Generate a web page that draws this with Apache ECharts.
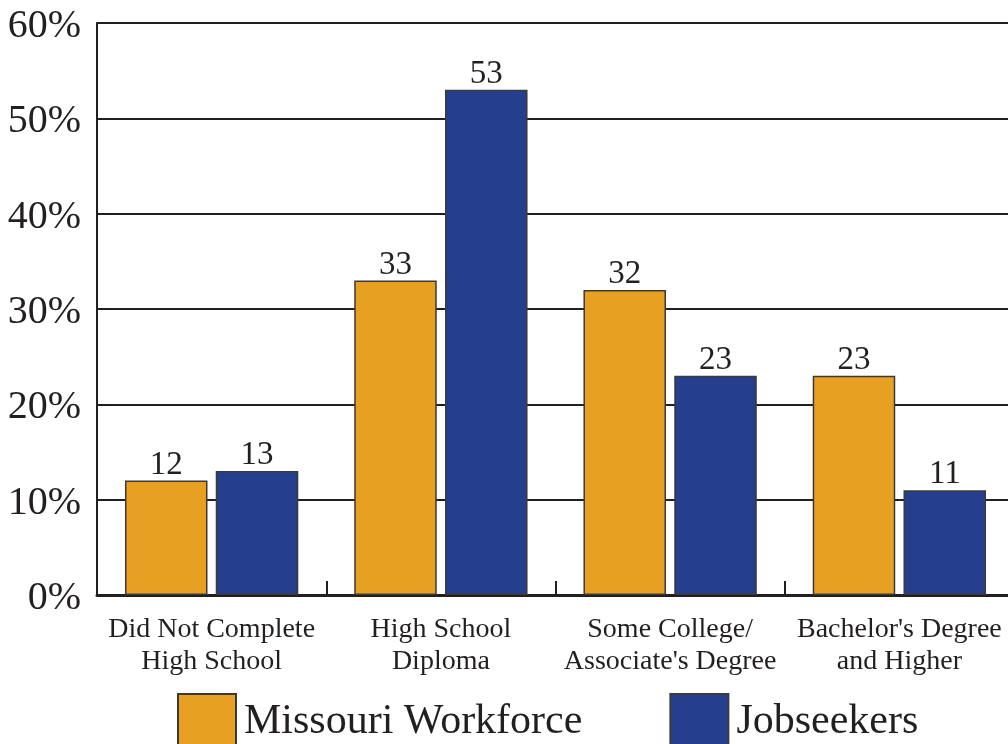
<!DOCTYPE html>
<html>
<head>
<meta charset="utf-8">
<style>
  html, body { margin: 0; padding: 0; background: #ffffff; }
  #chart { width: 1008px; height: 744px; }
</style>
<script src="https://cdn.jsdelivr.net/npm/echarts@6/dist/echarts.min.js"></script>
</head>
<body>
<div id="chart"></div>
<script>
// Educational attainment: statewide workforce vs. jobseekers (percent)
const categories = [
  'Did Not Complete\nHigh School',
  'High School\nDiploma',
  'Some College/\nAssociate\'s Degree',
  'Bachelor\'s Degree\nand Higher'
];
const workforce = [12, 33, 32, 23];
const jobseekers = [13, 53, 23, 11];
const yTicks = [0, 10, 20, 30, 40, 50, 60];

const serif = '"Liberation Serif", "DejaVu Serif", serif';
const ink = '#231f20';

const chart = echarts.init(document.getElementById('chart'), null, { renderer: 'canvas' });

const valueLabel = {
  show: true,
  position: 'top',
  distance: -1,
  color: ink,
  fontFamily: serif,
  fontSize: 33
};

chart.setOption({
  animation: false,
  backgroundColor: '#ffffff',
  // the plot runs slightly past the right edge of the page
  grid: { left: 97, top: 23, width: 917, height: 572, containLabel: false, outerBoundsMode: 'none' },
  legend: {
    left: 177,
    top: 693,
    padding: 0,
    icon: 'rect',
    itemWidth: 58,
    itemHeight: 56,
    itemGap: 87,
    textStyle: { fontFamily: serif, fontSize: 42, color: ink, padding: [4, 0, 0, 3] },
    data: ['Missouri Workforce', 'Jobseekers']
  },
  xAxis: {
    type: 'category',
    data: categories,
    axisLine: { show: true, lineStyle: { color: ink, width: 3 } },
    axisTick: { show: true, inside: true, interval: 0, length: 14, lineStyle: { color: ink, width: 2 } },
    axisLabel: {
      interval: 0,
      color: ink,
      fontFamily: serif,
      fontSize: 28,
      lineHeight: 32,
      margin: 19
    }
  },
  yAxis: {
    type: 'value',
    min: yTicks[0],
    max: yTicks[yTicks.length - 1],
    interval: 10,
    axisLine: { show: true, lineStyle: { color: ink, width: 2 } },
    axisTick: { show: false },
    splitLine: { show: true, lineStyle: { color: ink, width: 2 } },
    axisLabel: {
      color: ink,
      fontFamily: serif,
      fontSize: 40,
      margin: 16,
      // labels sit a few pixels below their gridlines
      verticalAlign: 'top',
      lineHeight: 7,
      formatter: v => v + '%'
    }
  },
  series: [
    {
      name: 'Missouri Workforce',
      type: 'bar',
      data: workforce,
      barGap: '10%',
      barCategoryGap: '24.4%',
      itemStyle: { color: '#e8a023', borderColor: '#3a3a3a', borderWidth: 1.5 },
      label: valueLabel
    },
    {
      name: 'Jobseekers',
      type: 'bar',
      data: jobseekers,
      itemStyle: { color: '#253f8e', borderColor: '#3a3a3a', borderWidth: 1.5 },
      label: valueLabel
    }
  ]
});
</script>
</body>
</html>
